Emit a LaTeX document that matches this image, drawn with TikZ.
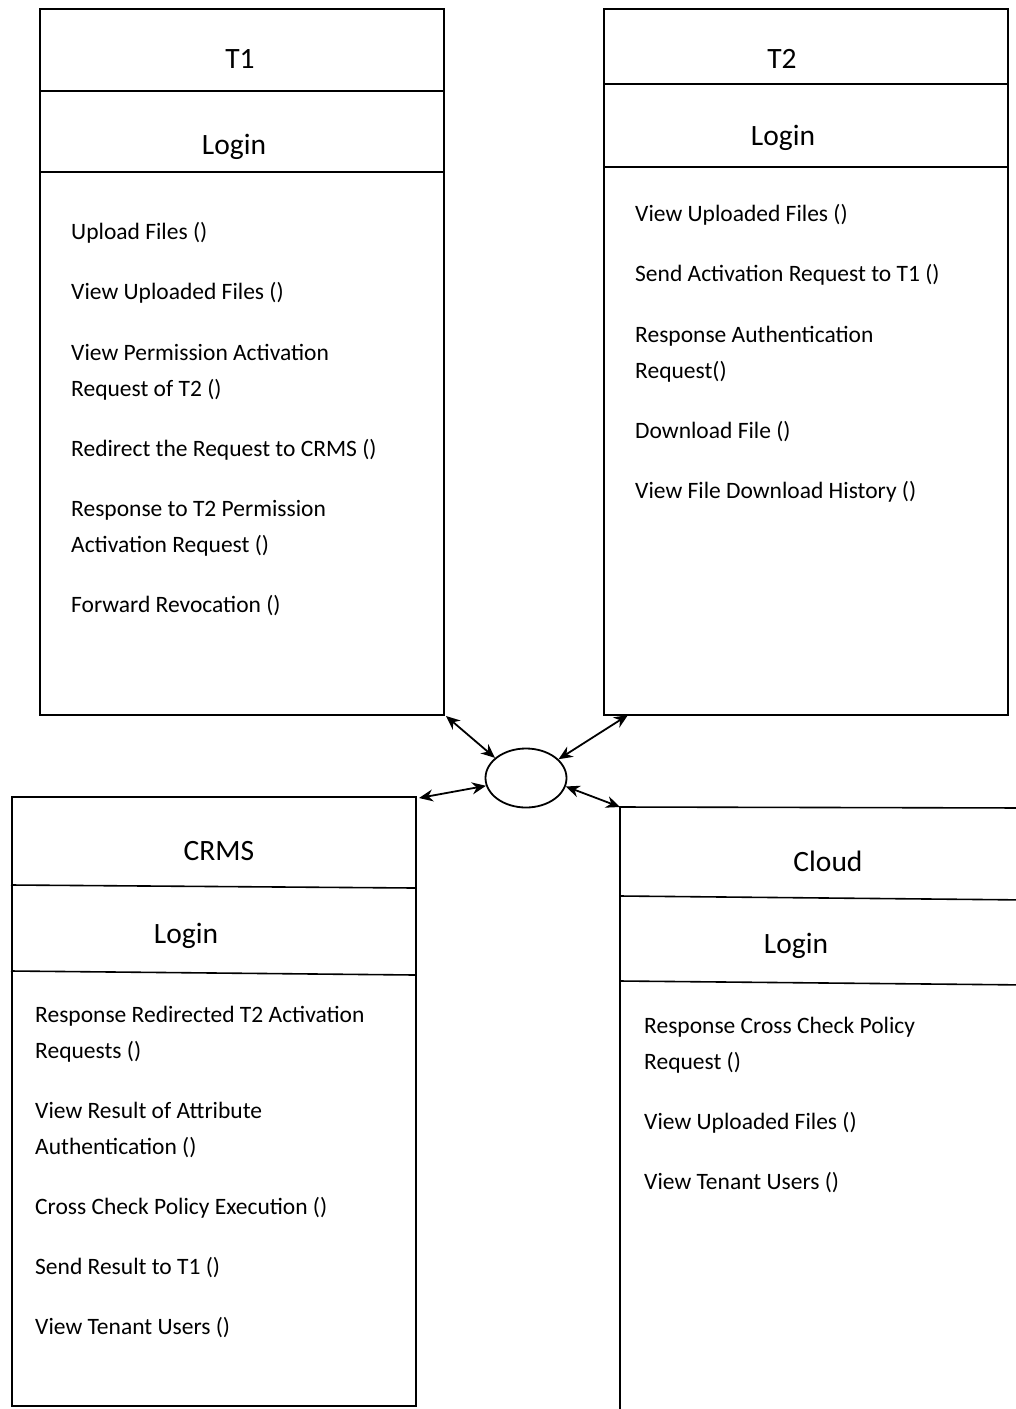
\documentclass[tikz,border=0pt]{standalone}
\usepackage{fontspec}
\setmainfont{Carlito}
\usetikzlibrary{arrows.meta,shapes.geometric}
\tikzset{
  frame/.style={draw=black, line width=1.6pt},
  panel/.style={frame, rectangle, inner sep=0pt, anchor=north west},
  title/.style={inner sep=0pt, font=\fontsize{29.5}{34}\selectfont},
  item/.style={inner sep=0pt, anchor=west, align=left, font=\fontsize{23.5}{36}\selectfont},
  link/.style={line width=1.8pt, {Stealth[length=14pt,width=12pt]}-{Stealth[length=14pt,width=12pt]}, shorten <=0pt, shorten >=0pt},
}
\begin{document}
\begin{tikzpicture}[x=1pt,y=-1pt]
\useasboundingbox (0,0) rectangle (1016,1409);
\begin{scope}
\clip (0,0) rectangle (1016,1409);

% T1 panel
\node[panel, minimum width=404pt, minimum height=706pt] (t1) at (39,8) {};
\draw[frame] (39,91) -- (443,91);
\draw[frame] (39,172) -- (443,172);
\node[title] (t1name) at (240,59) {T1};
\node[title] (t1login) at (234,147) {Login};
\node[item] (t1a) at (71,233) {Upload Files ()};
\node[item] (t1b) at (71,293) {View Uploaded Files ()};
\node[item] (t1c) at (71,372) {View Permission Activation\\Request of T2 ()};
\node[item] (t1d) at (71,450) {Redirect the Request to CRMS ()};
\node[item] (t1e) at (71,528) {Response to T2 Permission\\Activation Request ()};
\node[item] (t1f) at (71,606) {Forward Revocation ()};

% T2 panel
\node[panel, minimum width=404pt, minimum height=706pt] (t2) at (603,8) {};
\draw[frame] (603,84) -- (1007,84);
\draw[frame] (603,167) -- (1007,167);
\node[title] (t2name) at (782,59) {T2};
\node[title] (t2login) at (783,138) {Login};
\node[item] (t2a) at (635,215) {View Uploaded Files ()};
\node[item] (t2b) at (635,275) {Send Activation Request to T1 ()};
\node[item] (t2c) at (635,354) {Response Authentication\\Request()};
\node[item] (t2d) at (635,432) {Download File ()};
\node[item] (t2e) at (635,492) {View File Download History ()};

% CRMS panel
\node[panel, minimum width=404pt, minimum height=609pt] (crms) at (11,796) {};
\draw[frame] (11,885) -- (415,888);
\draw[frame] (11,971) -- (415,975);
\node[title] (crmsname) at (219,851) {CRMS};
\node[title] (crmslogin) at (186,936) {Login};
\node[item] (ca) at (35,1034) {Response Redirected T2 Activation\\Requests ()};
\node[item] (cb) at (35,1130) {View Result of Attribute\\Authentication ()};
\node[item] (cc) at (35,1208) {Cross Check Policy Execution ()};
\node[item] (cd) at (35,1268) {Send Result to T1 ()};
\node[item] (ce) at (35,1328) {View Tenant Users ()};

% Cloud panel (runs past the right and bottom edges)
\coordinate (cloud) at (620,807);
\draw[frame] (1030,808) -- (cloud) -- (620,1420);
\draw[frame] (620,896) -- (1030,900);
\draw[frame] (620,981) -- (1030,985);
\node[title] (cloudname) at (828,861) {Cloud};
\node[title] (cloudlogin) at (796,946) {Login};
\node[item] (la) at (644,1045) {Response Cross Check Policy\\Request ()};
\node[item] (lb) at (644,1123) {View Uploaded Files ()};
\node[item] (lc) at (644,1183) {View Tenant Users ()};
\end{scope}

% central hub
\node[draw, line width=1.8pt, ellipse, minimum width=81pt, minimum height=59pt, inner sep=0pt] (hub) at (526,778) {};

% connectors
\coordinate (t1c1) at (446,716);
\coordinate (t2c1) at (628,715);
\coordinate (crc1) at (419,798);
\draw[link] (t1c1) -- (hub.147);
\draw[link] (t2c1) -- (hub.30);
\draw[link] (crc1) -- (hub.191);
\draw[link] (hub.348) -- (cloud);
\end{tikzpicture}
\end{document}
